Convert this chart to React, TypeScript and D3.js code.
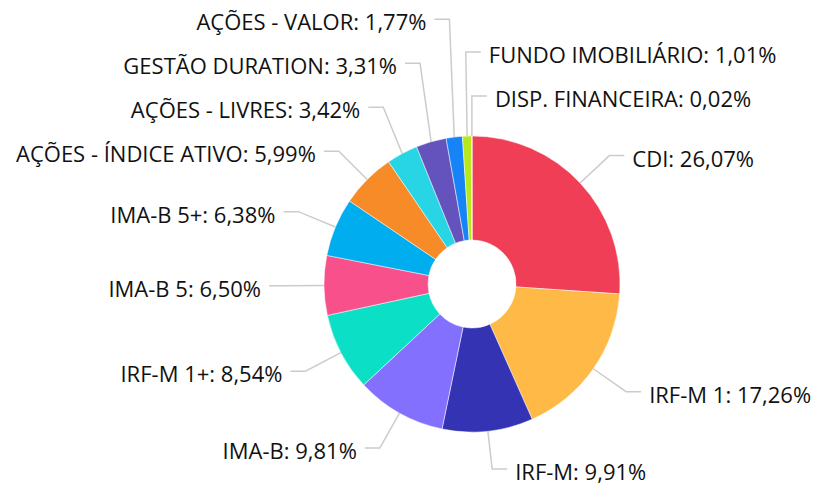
import React from "react";
import * as d3 from "d3";

const categories = [
  "CDI",
  "IRF-M 1",
  "IRF-M",
  "IMA-B",
  "IRF-M 1+",
  "IMA-B 5",
  "IMA-B 5+",
  "AÇÕES - ÍNDICE ATIVO",
  "AÇÕES - LIVRES",
  "GESTÃO DURATION",
  "AÇÕES - VALOR",
  "FUNDO IMOBILIÁRIO",
  "DISP. FINANCEIRA",
];
const values = [26.07, 17.26, 9.91, 9.81, 8.54, 6.5, 6.38, 5.99, 3.42, 3.31, 1.77, 1.01, 0.02];
const colors = [
  "#EF3E55",
  "#FFB946",
  "#3333B4",
  "#8470FF",
  "#0BE0C6",
  "#F7508B",
  "#00AEF0",
  "#F78B27",
  "#28D5E4",
  "#6553BD",
  "#1683F7",
  "#B8E81C",
  "#FF8A3D",
];

const W = 816;
const H = 485;
const cx = 472;
const cy = 284;
const R = 148;
const r0 = 44;
const rKnee = 188;
const hSeg = 15;
const gap = 8;
const spacing = 44;

const fmt = (v: number) => v.toFixed(2).replace(".", ",") + "%";

export default function App() {
  const data = categories.map((c, i) => ({ name: c, value: values[i], color: colors[i] }));
  const pie = d3.pie<any>().sort(null).value((d) => d.value);
  const arcs = pie(data);
  const arcGen = d3.arc<any>().innerRadius(r0).outerRadius(R);

  const labels = arcs.map((a) => {
    const mid = (a.startAngle + a.endAngle) / 2;
    const sx = Math.sin(mid) * R;
    const side = sx > -8 ? 1 : -1;
    const signed = mid > Math.PI ? mid - 2 * Math.PI : mid;
    return {
      name: a.data.name,
      value: a.data.value,
      mid,
      signed,
      side,
      x0: cx + Math.sin(mid) * R,
      y0: cy - Math.cos(mid) * R,
      kx: cx + Math.sin(mid) * rKnee,
      ky: cy - Math.cos(mid) * rKnee,
    };
  });

  // resolve overlaps per side, items already ordered top-to-bottom by angle
  const resolve = (items: any[]) => {
    for (let i = 0; i < items.length; i++) {
      if (items[i].ky > H - 16) items[i].ky = H - 16;
    }
    for (let i = items.length - 2; i >= 0; i--) {
      if (items[i].ky > items[i + 1].ky - spacing) items[i].ky = items[i + 1].ky - spacing;
    }
    for (let i = 0; i < items.length; i++) {
      if (items[i].ky < 14) items[i].ky = 14;
    }
  };
  const right = labels.filter((l) => l.side === 1).sort((a, b) => a.signed - b.signed);
  const left = labels.filter((l) => l.side === -1).sort((a, b) => b.mid - a.mid);
  resolve(right);
  resolve(left);

  return (
    <svg width={W} height={H} style={{ position: "absolute", left: 0, top: 0 }}>
      <g transform={`translate(${cx},${cy})`}>
        {arcs.map((a, i) => (
          <path key={i} d={arcGen(a) as string} fill={a.data.color} stroke="#fff" strokeWidth={0.5} />
        ))}
      </g>
      {labels.map((l, i) => {
        const ex = l.kx + l.side * hSeg;
        const tx = ex + l.side * gap;
        return (
          <g key={i}>
            <polyline
              points={`${l.x0},${l.y0} ${l.kx},${l.ky} ${ex},${l.ky}`}
              fill="none"
              stroke="#CCCCCC"
              strokeWidth={1.5}
            />
            <text
              x={tx}
              y={l.ky + 11}
              textAnchor={l.side === 1 ? "start" : "end"}
              fontFamily="'Open Sans', sans-serif"
              fontSize={22}
              fill="#111"
            >
              {l.name}: {fmt(l.value)}
            </text>
          </g>
        );
      })}
    </svg>
  );
}
